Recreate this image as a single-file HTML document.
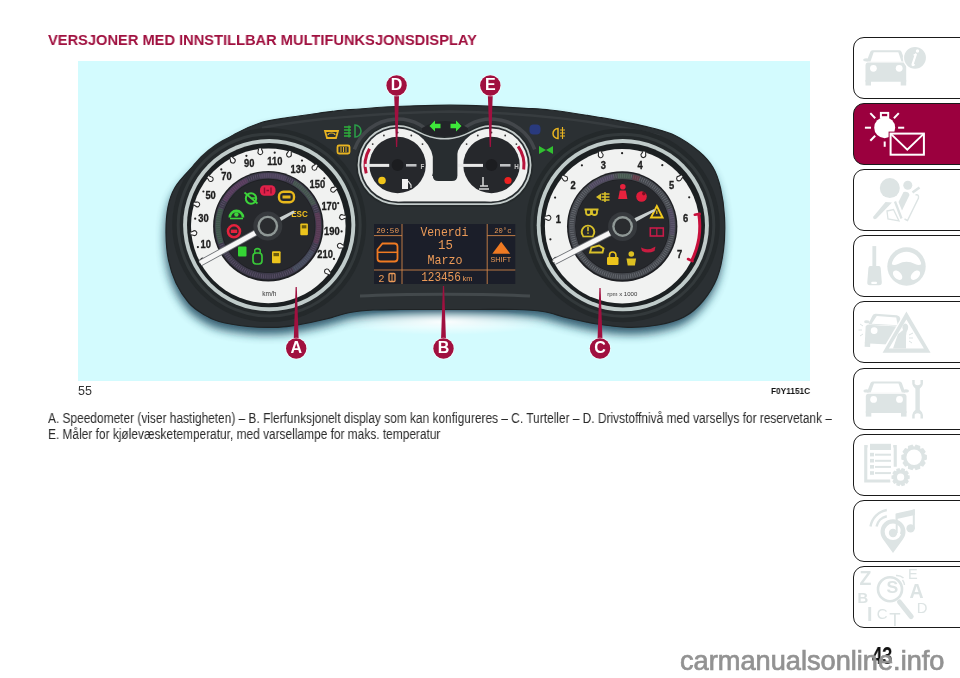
<!DOCTYPE html>
<html><head><meta charset="utf-8">
<style>
*{margin:0;padding:0;box-sizing:border-box}
html,body{width:960px;height:678px;overflow:hidden;background:#fff}
body{position:relative;font-family:"Liberation Sans",sans-serif}
.abs{position:absolute;white-space:nowrap;will-change:transform}
#h1{left:48px;top:30.5px;font-size:15.5px;line-height:17px;font-weight:bold;color:#a0103f;transform:scaleX(0.945);transform-origin:0 0}
#fig{position:absolute;left:78px;top:61px;width:732px;height:320px;will-change:transform}
#n55{left:78px;top:383.5px;font-size:12.5px;line-height:14px;color:#333}
#code{left:771px;top:385.5px;font-size:9px;line-height:10px;font-weight:bold;color:#111;transform:scaleX(0.92);transform-origin:0 0}
.cap{left:48px;font-size:13.8px;line-height:16px;color:#2a2a2a;transform:scaleX(0.863);transform-origin:0 0}
#c1{top:411px}
#c2{top:427.3px}
.tab{position:absolute;left:853px;width:120px;height:62px;border:1.8px solid #1a1a1a;border-radius:11px;background:#fff}
.tab svg{position:absolute;left:-1.6px;top:-1.6px}
#pg{left:872px;top:644px;font-size:23px;line-height:24px;font-weight:bold;color:#111;transform:scaleX(0.8);transform-origin:0 0}
#wm{left:680px;top:646.2px;font-size:27.2px;line-height:30px;color:#929292;-webkit-text-stroke:0.7px #929292}
</style></head><body>
<div id="h1" class="abs">VERSJONER MED INNSTILLBAR MULTIFUNKSJONSDISPLAY</div>

<svg id="fig" viewBox="78 61 732 320">
<rect x="78" y="61" width="732" height="320" fill="#d3fbfe"/>
<!--FIG-->
<defs>
<filter id="blur6" x="-20%" y="-20%" width="140%" height="140%"><feGaussianBlur stdDeviation="6"/></filter>
<filter id="blur5" x="-20%" y="-20%" width="140%" height="140%"><feGaussianBlur stdDeviation="5"/></filter>
<filter id="blur3" x="-20%" y="-20%" width="140%" height="140%"><feGaussianBlur stdDeviation="3"/></filter>
<filter id="blur1" x="-20%" y="-20%" width="140%" height="140%"><feGaussianBlur stdDeviation="1"/></filter>
<filter id="soft2" x="-10%" y="-10%" width="120%" height="120%"><feGaussianBlur stdDeviation="0.6"/></filter>
<filter id="soft" x="-10%" y="-10%" width="120%" height="120%"><feGaussianBlur stdDeviation="0.35"/></filter>
<radialGradient id="glow" cx="50%" cy="50%" r="50%"><stop offset="0" stop-color="#ffffff" stop-opacity="0.95"/><stop offset="1" stop-color="#ffffff" stop-opacity="0"/></radialGradient>
<radialGradient id="dial" cx="50%" cy="50%" r="50%"><stop offset="0.8" stop-color="#2a2c31"/><stop offset="1" stop-color="#1f2025"/></radialGradient>
</defs>
<path d="M166.0,233.0 C165.9,224.2 166.5,214.6 168.0,207.0 C169.5,199.4 171.3,193.8 175.0,187.5 C178.7,181.2 184.2,175.6 190.0,169.5 C195.8,163.4 202.5,156.9 210.0,151.0 C217.5,145.1 226.7,138.7 235.0,134.0 C243.3,129.3 251.7,125.7 260.0,123.0 C268.3,120.3 276.7,119.4 285.0,118.0 C293.3,116.6 301.7,115.7 310.0,114.5 C318.3,113.3 326.7,111.9 335.0,111.0 C343.3,110.1 351.7,109.7 360.0,109.0 C368.3,108.3 376.7,107.5 385.0,107.0 C393.3,106.5 399.2,106.3 410.0,106.0 C420.8,105.7 436.7,105.2 450.0,105.2 C463.3,105.2 477.5,105.8 490.0,106.3 C502.5,106.8 515.0,107.7 525.0,108.3 C535.0,108.9 541.7,109.1 550.0,110.0 C558.3,110.9 566.7,112.2 575.0,113.5 C583.3,114.8 591.7,116.1 600.0,117.5 C608.3,118.9 616.7,120.3 625.0,122.0 C633.3,123.7 641.7,125.2 650.0,127.5 C658.3,129.8 666.8,131.5 675.0,135.5 C683.2,139.5 692.7,146.2 699.0,151.5 C705.3,156.8 709.4,161.4 713.0,167.5 C716.6,173.6 718.6,179.8 720.5,188.0 C722.4,196.2 724.0,206.7 724.5,217.0 C725.0,227.3 724.8,239.8 723.5,250.0 C722.2,260.2 720.4,269.5 717.0,278.0 C713.6,286.5 708.5,294.5 703.0,301.0 C697.5,307.5 691.5,313.0 684.0,317.0 C676.5,321.0 667.3,323.3 658.0,325.0 C648.7,326.7 638.2,327.5 628.0,327.3 C617.8,327.1 607.0,325.6 597.0,324.0 C587.0,322.4 577.0,320.1 568.0,318.0 C559.0,315.9 551.8,312.9 543.0,311.5 C534.2,310.1 525.5,309.8 515.0,309.5 C504.5,309.2 492.5,309.5 480.0,309.5 C467.5,309.5 453.3,309.5 440.0,309.5 C426.7,309.5 411.2,309.4 400.0,309.5 C388.8,309.6 381.3,309.5 373.0,310.0 C364.7,310.5 357.8,311.0 350.0,312.5 C342.2,314.0 334.3,317.0 326.0,319.0 C317.7,321.0 308.0,323.1 300.0,324.5 C292.0,325.9 286.7,327.0 278.0,327.3 C269.3,327.6 257.8,327.5 248.0,326.5 C238.2,325.5 226.5,323.6 219.0,321.5 C211.5,319.4 208.0,317.1 203.0,314.0 C198.0,310.9 193.5,308.2 189.0,303.0 C184.5,297.8 179.4,290.2 176.0,283.0 C172.6,275.8 170.2,268.3 168.5,260.0 C166.8,251.7 166.1,241.8 166.0,233.0 Z" fill="#173f56" opacity="0.85" transform="translate(-1,7)" filter="url(#blur5)"/>
<ellipse cx="445" cy="322" rx="105" ry="13" fill="url(#glow)"/>
<path d="M166.0,233.0 C165.9,224.2 166.5,214.6 168.0,207.0 C169.5,199.4 171.3,193.8 175.0,187.5 C178.7,181.2 184.2,175.6 190.0,169.5 C195.8,163.4 202.5,156.9 210.0,151.0 C217.5,145.1 226.7,138.7 235.0,134.0 C243.3,129.3 251.7,125.7 260.0,123.0 C268.3,120.3 276.7,119.4 285.0,118.0 C293.3,116.6 301.7,115.7 310.0,114.5 C318.3,113.3 326.7,111.9 335.0,111.0 C343.3,110.1 351.7,109.7 360.0,109.0 C368.3,108.3 376.7,107.5 385.0,107.0 C393.3,106.5 399.2,106.3 410.0,106.0 C420.8,105.7 436.7,105.2 450.0,105.2 C463.3,105.2 477.5,105.8 490.0,106.3 C502.5,106.8 515.0,107.7 525.0,108.3 C535.0,108.9 541.7,109.1 550.0,110.0 C558.3,110.9 566.7,112.2 575.0,113.5 C583.3,114.8 591.7,116.1 600.0,117.5 C608.3,118.9 616.7,120.3 625.0,122.0 C633.3,123.7 641.7,125.2 650.0,127.5 C658.3,129.8 666.8,131.5 675.0,135.5 C683.2,139.5 692.7,146.2 699.0,151.5 C705.3,156.8 709.4,161.4 713.0,167.5 C716.6,173.6 718.6,179.8 720.5,188.0 C722.4,196.2 724.0,206.7 724.5,217.0 C725.0,227.3 724.8,239.8 723.5,250.0 C722.2,260.2 720.4,269.5 717.0,278.0 C713.6,286.5 708.5,294.5 703.0,301.0 C697.5,307.5 691.5,313.0 684.0,317.0 C676.5,321.0 667.3,323.3 658.0,325.0 C648.7,326.7 638.2,327.5 628.0,327.3 C617.8,327.1 607.0,325.6 597.0,324.0 C587.0,322.4 577.0,320.1 568.0,318.0 C559.0,315.9 551.8,312.9 543.0,311.5 C534.2,310.1 525.5,309.8 515.0,309.5 C504.5,309.2 492.5,309.5 480.0,309.5 C467.5,309.5 453.3,309.5 440.0,309.5 C426.7,309.5 411.2,309.4 400.0,309.5 C388.8,309.6 381.3,309.5 373.0,310.0 C364.7,310.5 357.8,311.0 350.0,312.5 C342.2,314.0 334.3,317.0 326.0,319.0 C317.7,321.0 308.0,323.1 300.0,324.5 C292.0,325.9 286.7,327.0 278.0,327.3 C269.3,327.6 257.8,327.5 248.0,326.5 C238.2,325.5 226.5,323.6 219.0,321.5 C211.5,319.4 208.0,317.1 203.0,314.0 C198.0,310.9 193.5,308.2 189.0,303.0 C184.5,297.8 179.4,290.2 176.0,283.0 C172.6,275.8 170.2,268.3 168.5,260.0 C166.8,251.7 166.1,241.8 166.0,233.0 Z" fill="#2b3033" stroke="#1f2325" stroke-width="1.2"/>
<path d="M360,296 C400,293.5 490,293.5 530,296" fill="none" stroke="#4a5052" stroke-width="3" opacity="0.8"/>
<path d="M262,128 C300,120 380,112.5 450,111.5 C520,112.5 600,120 660,136" fill="none" stroke="#3f4548" stroke-width="2.5" opacity="0.6"/>
<circle cx="269.2" cy="225.1" r="97" fill="#24292b"/>
<circle cx="269.2" cy="225.1" r="91" fill="none" stroke="#33393b" stroke-width="3"/>
<circle cx="269.2" cy="225.1" r="86.1" fill="#c0cbca"/>
<circle cx="269.2" cy="225.1" r="82.2" fill="#1c2022"/>
<circle cx="268.3" cy="225.9" r="77.3" fill="#f1f2f1"/>
<circle cx="622.8" cy="225.2" r="97" fill="#24292b"/>
<circle cx="622.8" cy="225.2" r="91" fill="none" stroke="#33393b" stroke-width="3"/>
<circle cx="622.8" cy="225.2" r="86.1" fill="#c0cbca"/>
<circle cx="622.8" cy="225.2" r="82.2" fill="#1c2022"/>
<circle cx="622.2" cy="226.2" r="77.3" fill="#f1f2f1"/>
<text x="0" y="0" transform="translate(205.7,247.7) scale(0.85,1)" font-family="Liberation Sans" font-size="11" font-weight="bold" fill="#1e1e1e" stroke="#1e1e1e" stroke-width="0.35" text-anchor="middle">10</text>
<text x="0" y="0" transform="translate(203.4,222.1) scale(0.85,1)" font-family="Liberation Sans" font-size="11" font-weight="bold" fill="#1e1e1e" stroke="#1e1e1e" stroke-width="0.35" text-anchor="middle">30</text>
<text x="0" y="0" transform="translate(210.6,198.8) scale(0.85,1)" font-family="Liberation Sans" font-size="11" font-weight="bold" fill="#1e1e1e" stroke="#1e1e1e" stroke-width="0.35" text-anchor="middle">50</text>
<text x="0" y="0" transform="translate(226.4,179.5) scale(0.85,1)" font-family="Liberation Sans" font-size="11" font-weight="bold" fill="#1e1e1e" stroke="#1e1e1e" stroke-width="0.35" text-anchor="middle">70</text>
<text x="0" y="0" transform="translate(249.2,167.4) scale(0.85,1)" font-family="Liberation Sans" font-size="11" font-weight="bold" fill="#1e1e1e" stroke="#1e1e1e" stroke-width="0.35" text-anchor="middle">90</text>
<text x="0" y="0" transform="translate(274.8,165.1) scale(0.85,1)" font-family="Liberation Sans" font-size="11" font-weight="bold" fill="#1e1e1e" stroke="#1e1e1e" stroke-width="0.35" text-anchor="middle">110</text>
<text x="0" y="0" transform="translate(298.3,172.5) scale(0.85,1)" font-family="Liberation Sans" font-size="11" font-weight="bold" fill="#1e1e1e" stroke="#1e1e1e" stroke-width="0.35" text-anchor="middle">130</text>
<text x="0" y="0" transform="translate(317.3,188.3) scale(0.85,1)" font-family="Liberation Sans" font-size="11" font-weight="bold" fill="#1e1e1e" stroke="#1e1e1e" stroke-width="0.35" text-anchor="middle">150</text>
<text x="0" y="0" transform="translate(329.2,210.4) scale(0.85,1)" font-family="Liberation Sans" font-size="11" font-weight="bold" fill="#1e1e1e" stroke="#1e1e1e" stroke-width="0.35" text-anchor="middle">170</text>
<text x="0" y="0" transform="translate(331.8,234.7) scale(0.85,1)" font-family="Liberation Sans" font-size="11" font-weight="bold" fill="#1e1e1e" stroke="#1e1e1e" stroke-width="0.35" text-anchor="middle">190</text>
<text x="0" y="0" transform="translate(325.1,258.2) scale(0.85,1)" font-family="Liberation Sans" font-size="11" font-weight="bold" fill="#1e1e1e" stroke="#1e1e1e" stroke-width="0.35" text-anchor="middle">210</text>
<path d="M-1.3,-3.6 L-2,-1.2 A2.4,2.4 0 1 0 2,-1.2 L1.3,-3.6" transform="translate(202.6,260.7) rotate(-117.9)" fill="#fafafa" stroke="#2a2a2a" stroke-width="1.1"/>
<circle cx="197.9" cy="247.1" r="1.1" fill="#222"/>
<path d="M-1.3,-3.6 L-2,-1.2 A2.4,2.4 0 1 0 2,-1.2 L1.3,-3.6" transform="translate(194.3,233.1) rotate(-95.6)" fill="#fafafa" stroke="#2a2a2a" stroke-width="1.1"/>
<circle cx="195.2" cy="218.7" r="1.1" fill="#222"/>
<path d="M-1.3,-3.6 L-2,-1.2 A2.4,2.4 0 1 0 2,-1.2 L1.3,-3.6" transform="translate(197.2,204.4) rotate(-73.2)" fill="#fafafa" stroke="#2a2a2a" stroke-width="1.1"/>
<circle cx="203.4" cy="191.5" r="1.1" fill="#222"/>
<path d="M-1.3,-3.6 L-2,-1.2 A2.4,2.4 0 1 0 2,-1.2 L1.3,-3.6" transform="translate(210.7,179.0) rotate(-50.9)" fill="#fafafa" stroke="#2a2a2a" stroke-width="1.1"/>
<circle cx="221.3" cy="169.4" r="1.1" fill="#222"/>
<path d="M-1.3,-3.6 L-2,-1.2 A2.4,2.4 0 1 0 2,-1.2 L1.3,-3.6" transform="translate(232.8,160.6) rotate(-28.5)" fill="#fafafa" stroke="#2a2a2a" stroke-width="1.1"/>
<circle cx="246.4" cy="155.8" r="1.1" fill="#222"/>
<path d="M-1.3,-3.6 L-2,-1.2 A2.4,2.4 0 1 0 2,-1.2 L1.3,-3.6" transform="translate(260.3,152.0) rotate(-6.2)" fill="#fafafa" stroke="#2a2a2a" stroke-width="1.1"/>
<circle cx="274.7" cy="152.7" r="1.1" fill="#222"/>
<path d="M-1.3,-3.6 L-2,-1.2 A2.4,2.4 0 1 0 2,-1.2 L1.3,-3.6" transform="translate(289.0,154.5) rotate(16.1)" fill="#fafafa" stroke="#2a2a2a" stroke-width="1.1"/>
<circle cx="302.0" cy="160.6" r="1.1" fill="#222"/>
<path d="M-1.3,-3.6 L-2,-1.2 A2.4,2.4 0 1 0 2,-1.2 L1.3,-3.6" transform="translate(314.5,167.7) rotate(38.5)" fill="#fafafa" stroke="#2a2a2a" stroke-width="1.1"/>
<circle cx="324.3" cy="178.3" r="1.1" fill="#222"/>
<path d="M-1.3,-3.6 L-2,-1.2 A2.4,2.4 0 1 0 2,-1.2 L1.3,-3.6" transform="translate(333.2,189.7) rotate(60.8)" fill="#fafafa" stroke="#2a2a2a" stroke-width="1.1"/>
<circle cx="338.2" cy="203.2" r="1.1" fill="#222"/>
<path d="M-1.3,-3.6 L-2,-1.2 A2.4,2.4 0 1 0 2,-1.2 L1.3,-3.6" transform="translate(342.1,217.1) rotate(83.2)" fill="#fafafa" stroke="#2a2a2a" stroke-width="1.1"/>
<circle cx="341.6" cy="231.4" r="1.1" fill="#222"/>
<path d="M-1.3,-3.6 L-2,-1.2 A2.4,2.4 0 1 0 2,-1.2 L1.3,-3.6" transform="translate(339.9,245.8) rotate(105.5)" fill="#fafafa" stroke="#2a2a2a" stroke-width="1.1"/>
<circle cx="334.0" cy="258.9" r="1.1" fill="#222"/>
<path d="M-1.3,-3.6 L-2,-1.2 A2.4,2.4 0 1 0 2,-1.2 L1.3,-3.6" transform="translate(327.0,271.5) rotate(127.8)" fill="#fafafa" stroke="#2a2a2a" stroke-width="1.1"/>
<text x="0" y="0" transform="translate(269.3,295.9) scale(1,1)" font-family="Liberation Sans" font-size="6.5" font-weight="normal" fill="#333" text-anchor="middle" >km/h</text>
<text x="0" y="0" transform="translate(558.4,222.9) scale(0.85,1)" font-family="Liberation Sans" font-size="11" font-weight="bold" fill="#1e1e1e" stroke="#1e1e1e" stroke-width="0.35" text-anchor="middle">1</text>
<text x="0" y="0" transform="translate(573.0,188.8) scale(0.85,1)" font-family="Liberation Sans" font-size="11" font-weight="bold" fill="#1e1e1e" stroke="#1e1e1e" stroke-width="0.35" text-anchor="middle">2</text>
<text x="0" y="0" transform="translate(603.4,168.7) scale(0.85,1)" font-family="Liberation Sans" font-size="11" font-weight="bold" fill="#1e1e1e" stroke="#1e1e1e" stroke-width="0.35" text-anchor="middle">3</text>
<text x="0" y="0" transform="translate(640.0,168.5) scale(0.85,1)" font-family="Liberation Sans" font-size="11" font-weight="bold" fill="#1e1e1e" stroke="#1e1e1e" stroke-width="0.35" text-anchor="middle">4</text>
<text x="0" y="0" transform="translate(671.5,189.3) scale(0.85,1)" font-family="Liberation Sans" font-size="11" font-weight="bold" fill="#1e1e1e" stroke="#1e1e1e" stroke-width="0.35" text-anchor="middle">5</text>
<text x="0" y="0" transform="translate(685.5,222.0) scale(0.85,1)" font-family="Liberation Sans" font-size="11" font-weight="bold" fill="#1e1e1e" stroke="#1e1e1e" stroke-width="0.35" text-anchor="middle">6</text>
<text x="0" y="0" transform="translate(679.5,258.0) scale(0.85,1)" font-family="Liberation Sans" font-size="11" font-weight="bold" fill="#1e1e1e" stroke="#1e1e1e" stroke-width="0.35" text-anchor="middle">7</text>
<path d="M-1.3,-3.6 L-2,-1.2 A2.4,2.4 0 1 0 2,-1.2 L1.3,-3.6" transform="translate(556.0,259.9) rotate(-117.0)" fill="#fafafa" stroke="#2a2a2a" stroke-width="1.1"/>
<circle cx="550.4" cy="239.3" r="1.1" fill="#222"/>
<path d="M-1.3,-3.6 L-2,-1.2 A2.4,2.4 0 1 0 2,-1.2 L1.3,-3.6" transform="translate(548.4,217.9) rotate(-83.6)" fill="#fafafa" stroke="#2a2a2a" stroke-width="1.1"/>
<circle cx="555.1" cy="197.6" r="1.1" fill="#222"/>
<path d="M-1.3,-3.6 L-2,-1.2 A2.4,2.4 0 1 0 2,-1.2 L1.3,-3.6" transform="translate(565.1,178.6) rotate(-50.2)" fill="#fafafa" stroke="#2a2a2a" stroke-width="1.1"/>
<circle cx="581.9" cy="165.3" r="1.1" fill="#222"/>
<path d="M-1.3,-3.6 L-2,-1.2 A2.4,2.4 0 1 0 2,-1.2 L1.3,-3.6" transform="translate(600.7,155.1) rotate(-16.8)" fill="#fafafa" stroke="#2a2a2a" stroke-width="1.1"/>
<circle cx="622.1" cy="153.2" r="1.1" fill="#222"/>
<path d="M-1.3,-3.6 L-2,-1.2 A2.4,2.4 0 1 0 2,-1.2 L1.3,-3.6" transform="translate(643.4,155.0) rotate(16.6)" fill="#fafafa" stroke="#2a2a2a" stroke-width="1.1"/>
<circle cx="662.3" cy="165.2" r="1.1" fill="#222"/>
<path d="M-1.3,-3.6 L-2,-1.2 A2.4,2.4 0 1 0 2,-1.2 L1.3,-3.6" transform="translate(679.1,178.4) rotate(50.0)" fill="#fafafa" stroke="#2a2a2a" stroke-width="1.1"/>
<circle cx="689.2" cy="197.3" r="1.1" fill="#222"/>
<path d="M698.8,214.1 A77.6,77.6 0 0 1 691.6,260.8" fill="none" stroke="#c8103c" stroke-width="3"/>
<line x1="699.7" y1="213.9" x2="694.8" y2="214.7" stroke="#c8103c" stroke-width="2.6" stroke-linecap="round"/>
<line x1="692.5" y1="261.2" x2="688.0" y2="259.0" stroke="#c8103c" stroke-width="2.6" stroke-linecap="round"/>
<text x="0" y="0" transform="translate(622.2,296.2) scale(1,1)" font-family="Liberation Sans" font-size="6" font-weight="normal" fill="#333" text-anchor="middle" >rpm x 1000</text>
<circle cx="268.3" cy="226.20000000000002" r="55.2" fill="#1e1f23"/>
<circle cx="268.3" cy="225.9" r="50.3" fill="none" stroke="#3d3a4a" stroke-width="6.5"/>
<circle cx="268.3" cy="225.9" r="50.5" fill="none" stroke="#6a5a78" stroke-width="4" stroke-dasharray="0.7 1.5" opacity="0.75"/>
<circle cx="268.3" cy="225.9" r="46.5" fill="#26282c"/>
<circle cx="622.2" cy="226.5" r="55.2" fill="#1e1f23"/>
<circle cx="622.2" cy="226.2" r="50.3" fill="none" stroke="#45484e" stroke-width="6.5"/>
<circle cx="622.2" cy="226.2" r="50.5" fill="none" stroke="#7a7e84" stroke-width="4" stroke-dasharray="0.7 1.5" opacity="0.75"/>
<circle cx="622.2" cy="226.2" r="46.5" fill="#26282c"/>
<path d="M221.0,243.1 A50.3,50.3 0 0 1 221.0,208.7" fill="none" stroke="#3f6a4a" stroke-width="5" opacity="0.55"/>
<path d="M224.7,200.8 A50.3,50.3 0 0 1 247.0,180.3" fill="none" stroke="#6a3f6a" stroke-width="5" opacity="0.55"/>
<path d="M259.6,176.4 A50.3,50.3 0 0 1 285.5,178.6" fill="none" stroke="#5a4a6a" stroke-width="5" opacity="0.55"/>
<path d="M293.5,182.3 A50.3,50.3 0 0 1 313.9,204.6" fill="none" stroke="#4a6a52" stroke-width="5" opacity="0.55"/>
<path d="M316.9,212.9 A50.3,50.3 0 0 1 315.6,243.1" fill="none" stroke="#6a3a5a" stroke-width="5" opacity="0.55"/>
<path d="M311.9,251.1 A50.3,50.3 0 0 1 293.5,269.5" fill="none" stroke="#4a5a6a" stroke-width="5" opacity="0.55"/>
<path d="M589.9,187.7 A50.3,50.3 0 0 1 613.5,176.7" fill="none" stroke="#5a4a70" stroke-width="5" opacity="0.5"/>
<path d="M617.8,176.1 A50.3,50.3 0 0 1 630.9,176.7" fill="none" stroke="#4a6a52" stroke-width="5" opacity="0.5"/>
<path d="M632.7,177.0 A50.3,50.3 0 0 1 639.4,178.9" fill="none" stroke="#7a3040" stroke-width="5" opacity="0.5"/>
<path d="M669.5,209.0 A50.3,50.3 0 0 1 671.7,234.9" fill="none" stroke="#5a4a70" stroke-width="5" opacity="0.5"/>
<g filter="url(#soft)">
<rect x="260" y="185.2" width="15.5" height="10.5" rx="4.5" fill="#e0204a"/>
<path d="M264.5,187.5 v6 M271,187.5 v6 M266.5,190.5 h2.5" stroke="#8a1030" stroke-width="1.4"/>
<circle cx="251" cy="198.5" r="5.2" fill="none" stroke="#3cd43a" stroke-width="2"/>
<path d="M244.5,192.5 L257.5,203.5 M250,198 h6" stroke="#3cd43a" stroke-width="1.7"/>
<rect x="279" y="191.8" width="15" height="10.5" rx="4.5" fill="none" stroke="#e8b81e" stroke-width="2.4"/>
<rect x="282.5" y="195.5" width="8" height="3" fill="#e8b81e"/>
<path d="M229.8,217.5 A6.6,6.6 0 1 1 243,217.5" fill="none" stroke="#3cd43a" stroke-width="2.6"/>
<circle cx="236.4" cy="214.5" r="2.2" fill="#3cd43a"/><path d="M230,218.5 h13" stroke="#3cd43a" stroke-width="1.6"/>
<circle cx="234" cy="231.3" r="6" fill="none" stroke="#e4203c" stroke-width="2.6"/>
<rect x="230.8" y="229.6" width="6.4" height="3.4" fill="#e4203c"/>
</g>
<text x="0" y="0" transform="translate(299.5,217.0) scale(0.85,1)" font-family="Liberation Sans" font-size="9.5" font-weight="bold" fill="#f0c020" text-anchor="middle" >ESC</text>
<g filter="url(#soft)">
<rect x="300.3" y="223.6" width="7.6" height="11.6" rx="1" fill="#ecc41c"/><rect x="301.8" y="225.2" width="4.6" height="3.2" fill="#6a5a10"/>
<rect x="238" y="246.5" width="8.5" height="10" rx="1" fill="#34d434"/>
<rect x="253" y="253" width="9" height="11" rx="3.2" fill="none" stroke="#38c838" stroke-width="1.7"/>
<path d="M254.8,253.5 L254.8,249.8 Q257.5,247.5 260.2,249.8 L260.2,253.5" fill="none" stroke="#38c838" stroke-width="1.5"/>
<rect x="272" y="251.3" width="8.6" height="12" rx="1" fill="#ecc41c"/><rect x="273.5" y="253" width="5.5" height="3.2" fill="#6a5a10"/>
</g>
<g filter="url(#soft)">
<path d="M596,197 l5,-3.5 v7 z" fill="#d8c02a"/><path d="M601.5,194 h8 M601.5,197 h8 M601.5,200 h8 M605,192 v10" stroke="#d8c02a" stroke-width="1.5"/>
<circle cx="622.8" cy="186.8" r="2.8" fill="#e8203c"/><path d="M618.2,199 L619.8,190.5 L625.8,190.5 L627.4,199 Z" fill="#e8203c"/>
<circle cx="641.5" cy="196.5" r="5.3" fill="#e01e3a"/><circle cx="643.8" cy="193.6" r="1.8" fill="#7a1020"/>
<path d="M584.5,209.5 h14 M586,209.5 v3 a2.5,2.5 0 0 0 5,0 v-3 M592,209.5 v3 a2.5,2.5 0 0 0 5,0 v-3" fill="none" stroke="#d8c02a" stroke-width="1.8"/>
<path d="M656.8,206 L662.6,217.5 L651,217.5 Z" fill="none" stroke="#f0c81c" stroke-width="1.9"/><path d="M656.8,210.5 v3.5" stroke="#f0c81c" stroke-width="1.2"/>
<path d="M583.2,236 A6.3,6.3 0 1 1 592.8,236" fill="none" stroke="#d8c02a" stroke-width="1.9"/><path d="M582.5,236.5 h11" stroke="#d8c02a" stroke-width="1.6"/><path d="M588,227 v4.2 M588,232.6 v1.2" stroke="#d8c02a" stroke-width="1.6"/>
<rect x="650.3" y="228" width="13" height="8" fill="none" stroke="#c81c48" stroke-width="1.6"/><path d="M656.8,228 v8" stroke="#c81c48" stroke-width="1.2"/>
<path d="M590,252.5 L591.5,247.5 L599,245.5 L603.5,248.5 L602.5,252.5 Z" fill="none" stroke="#d8c02a" stroke-width="1.9"/>
<path d="M641,247.5 Q648,251.5 655.5,246.5 L654.5,251 Q648,254 642,251 Z" fill="#c81c40"/>
<rect x="607" y="257" width="11.5" height="8" rx="1.2" fill="#ecc41c"/><path d="M609.5,257.5 v-2.3 a3.2,3.2 0 0 1 6.4,0 v2.3" fill="none" stroke="#ecc41c" stroke-width="1.6"/>
<circle cx="631.3" cy="254" r="2.8" fill="#ddc020"/><path d="M626.5,258.5 h9.6 l-1.2,7 h-7.2 z" fill="#ddc020"/>
</g>
<line x1="259.0" y1="230.9" x2="200.3" y2="263.2" stroke="#6f7277" stroke-width="6.6" stroke-linecap="butt"/>
<line x1="259.0" y1="230.9" x2="200.3" y2="263.2" stroke="#f6f6f6" stroke-width="4.9" stroke-linecap="butt"/>
<path d="M277.6,223.1 L294.7,212.7 L293.5,210.6 L275.6,219.4 Z" fill="#c9cfcf"/>
<circle cx="267.8" cy="226.1" r="14.5" fill="#36393d"/>
<circle cx="267.8" cy="226.1" r="10.4" fill="#8f9896"/>
<circle cx="267.8" cy="226.1" r="8" fill="#2a2c2f"/>
<line x1="613.7" y1="231.1" x2="554.1" y2="261.7" stroke="#6f7277" stroke-width="6.6" stroke-linecap="butt"/>
<line x1="613.7" y1="231.1" x2="554.1" y2="261.7" stroke="#f6f6f6" stroke-width="4.9" stroke-linecap="butt"/>
<path d="M632.5,223.8 L655.2,211.1 L654.1,209.0 L630.5,220.1 Z" fill="#c9cfcf"/>
<circle cx="622.6" cy="226.5" r="14.5" fill="#36393d"/>
<circle cx="622.6" cy="226.5" r="10.4" fill="#8f9896"/>
<circle cx="622.6" cy="226.5" r="8" fill="#2a2c2f"/>
<path d="M354.4,149.3 A46,46 0 0 1 438.2,143.4" fill="none" stroke="#43474b" stroke-width="3.5"/>
<path d="M450.9,143.4 A46,46 0 0 1 534.7,149.3" fill="none" stroke="#43474b" stroke-width="3.5"/>
<path d="M422,128 Q445,114 468,128 L468,140 L422,140 Z" fill="#222428"/>
<path d="M397.6,123.2 A41.8,41.8 0 0 0 397.6,206.8 L491.5,206.8 A41.8,41.8 0 0 0 491.5,123.2 C473.5,123.2 467.5,136.2 444.55,136.2 C421.6,136.2 415.6,123.2 397.6,123.2 Z" fill="#24292b"/>
<path d="M397.6,125 A40,40 0 0 0 397.6,205 L491.5,205 A40,40 0 0 0 491.5,125 C473.5,125 467.5,138 444.55,138 C421.6,138 415.6,125 397.6,125 Z" fill="#c3cbca"/>
<path d="M397.6,126.8 A38.2,38.2 0 0 0 397.6,203.2 L491.5,203.2 A38.2,38.2 0 0 0 491.5,126.8 C473.5,126.8 467.5,139.6 444.55,139.6 C421.6,139.6 415.6,126.8 397.6,126.8 Z" fill="#282d30"/>
<circle cx="397.6" cy="165" r="36.4" fill="#f0f1f0"/>
<circle cx="491.5" cy="165" r="36.4" fill="#f0f1f0"/>
<rect x="397.6" y="176" width="93.89999999999998" height="25.400000000000006" fill="#f0f1f0"/>
<path d="M432.8,150 L432.8,175.5 Q432.8,181 438.3,181 L451.9,181 Q457.4,181 457.4,175.5 L457.4,150 Z" fill="#282d30"/>
<circle cx="397.6" cy="165" r="28.2" fill="#26282c"/>
<circle cx="397.6" cy="165" r="6" fill="#1c1d20"/>
<circle cx="422.5" cy="144.1" r="0.9" fill="#333"/>
<circle cx="411.3" cy="135.5" r="0.9" fill="#333"/>
<circle cx="397.6" cy="132.5" r="0.9" fill="#333"/>
<circle cx="383.9" cy="135.5" r="0.9" fill="#333"/>
<circle cx="372.7" cy="144.1" r="0.9" fill="#333"/>
<circle cx="491.5" cy="165" r="28.2" fill="#26282c"/>
<circle cx="491.5" cy="165" r="6" fill="#1c1d20"/>
<circle cx="516.4" cy="144.1" r="0.9" fill="#333"/>
<circle cx="505.2" cy="135.5" r="0.9" fill="#333"/>
<circle cx="491.5" cy="132.5" r="0.9" fill="#333"/>
<circle cx="477.8" cy="135.5" r="0.9" fill="#333"/>
<circle cx="466.6" cy="144.1" r="0.9" fill="#333"/>
<path d="M366.2,173.4 A32.5,32.5 0 0 1 369.5,148.8" fill="none" stroke="#b8143c" stroke-width="3"/>
<path d="M518.1,146.4 A32.5,32.5 0 0 1 523.7,169.5" fill="none" stroke="#b8143c" stroke-width="3"/>
<rect x="364.7" y="163.9" width="24.5" height="3" fill="#e8e8e8"/>
<rect x="406" y="164" width="10.5" height="2.6" fill="#bfc1c3"/>
<text x="0" y="0" transform="translate(422.5,168.5) scale(0.9,1)" font-family="Liberation Sans" font-size="7" font-weight="bold" fill="#c8c8c8" text-anchor="middle" >F</text>
<rect x="458" y="163.9" width="25" height="3" fill="#e8e8e8"/>
<rect x="500" y="164" width="10.5" height="2.6" fill="#bfc1c3"/>
<text x="0" y="0" transform="translate(516.5,168.5) scale(0.9,1)" font-family="Liberation Sans" font-size="7" font-weight="bold" fill="#c8c8c8" text-anchor="middle" >H</text>
<circle cx="382" cy="180.5" r="3.8" fill="#f0c419"/>
<rect x="402" y="179" width="6" height="10" fill="#f0f0f0"/><path d="M408,181 l3,4 v3" fill="none" stroke="#e0e0e0" stroke-width="1.2"/>
<circle cx="508" cy="180.5" r="3.6" fill="#ee2020"/>
<path d="M483,177 v9 M479,189 h10 M480,186 h8" fill="none" stroke="#d8d8d8" stroke-width="1.5"/>
<path d="M429.5,126 l5.5,-5.5 v3.2 h5.5 v4.6 h-5.5 v3.2 z" fill="#3ee83a"/>
<path d="M461.5,126 l-5.5,-5.5 v3.2 h-5.5 v4.6 h5.5 v3.2 z" fill="#3ee83a"/>
<g filter="url(#soft2)">
<path d="M325,131 L338,131 L336,138 L327,138 Z" fill="none" stroke="#e8b320" stroke-width="1.8"/><path d="M328,135 a3.5,2 0 0 1 7,0" fill="none" stroke="#e8b320" stroke-width="1.2"/>
<path d="M344,127 h7 M344,130 h7 M344,133 h7 M344,136 h7 M349,125.5 v12" stroke="#2fae3a" stroke-width="1.3"/>
<path d="M355,125 a6,6 0 0 1 0,12 z" fill="none" stroke="#2a9a48" stroke-width="1.6"/>
<rect x="337.5" y="145.5" width="12" height="8" rx="1.5" fill="none" stroke="#e8b320" stroke-width="1.8"/><path d="M341,147 v5 M343.5,147 v5 M346,147 v5" stroke="#e8b320" stroke-width="1"/>
<rect x="529.5" y="124.5" width="11" height="10" rx="4" fill="#2a3c96" opacity="0.75"/>
<path d="M558,128.5 a5,5 0 0 0 0,10 z" fill="none" stroke="#e8b320" stroke-width="1.5"/><path d="M560,130 h5 M560,133 h5 M560,136 h5 M562.5,127 v12" stroke="#e8b320" stroke-width="1.1"/>
<path d="M539,146 l7,4 l7,-4 v8 l-7,-4 l-7,4 z" fill="#30c030"/>
</g>
<rect x="374" y="224" width="141.3" height="60" fill="#1b1e29"/>
<g stroke="#d98a4a" stroke-width="1" fill="none" opacity="0.85"><path d="M402,224 V284 M487.2,224 V284 M374,270 H515.3 M374,235.6 H402 M487.2,235.6 H515.3"/></g>
<text x="0" y="0" transform="translate(387.6,233.4) scale(0.95,1)" font-family="Liberation Mono" font-size="8" fill="#eb9a58" text-anchor="middle">20:50</text>
<text x="0" y="0" transform="translate(444.3,236.2) scale(0.95,1)" font-family="Liberation Mono" font-size="12" fill="#eb9a58" text-anchor="middle">Venerdi</text>
<text x="0" y="0" transform="translate(445.4,249.4) scale(0.95,1)" font-family="Liberation Mono" font-size="13" fill="#eb9a58" text-anchor="middle">15</text>
<text x="0" y="0" transform="translate(445.0,264.2) scale(0.9,1)" font-family="Liberation Mono" font-size="13" fill="#eb9a58" text-anchor="middle">Marzo</text>
<text x="0" y="0" transform="translate(441.0,281.3) scale(0.85,1)" font-family="Liberation Mono" font-size="13" fill="#eb9a58" text-anchor="middle">123456</text>
<text x="462.5" y="281" font-family="Liberation Sans" font-size="7.5" fill="#eb9a58">km</text>
<text x="0" y="0" transform="translate(502.8,233.4) scale(0.9,1)" font-family="Liberation Mono" font-size="8" fill="#eb9a58" text-anchor="middle">20°c</text>
<path d="M501.2,241.8 L510.2,253.7 L492.3,253.7 Z" fill="#f07a22"/>
<text x="0" y="0" transform="translate(500.8,261.5) scale(0.9,1)" font-family="Liberation Sans" font-size="8" fill="#eb9a58" text-anchor="middle">SHIFT</text>
<path d="M382.5,243.5 L394.5,243.5 Q397.5,243.5 397.5,246.5 L397.5,258.5 Q397.5,261.5 394.5,261.5 L380.5,261.5 Q377.5,261.5 377.5,258.5 L377.5,249.5 Z" fill="none" stroke="#f07a22" stroke-width="1.8"/>
<path d="M377.5,252.3 H397.5" stroke="#f07a22" stroke-width="1.5"/>
<text x="0" y="0" transform="translate(381.5,281.5) scale(0.95,1)" font-family="Liberation Mono" font-size="11" fill="#eb9a58" text-anchor="middle">2</text>
<rect x="389" y="273.5" width="6" height="8" rx="1" fill="none" stroke="#eb9a58" stroke-width="1.3"/><path d="M392,274 v7" stroke="#eb9a58" stroke-width="1"/>
<path d="M394.0,90.5 L399.20000000000005,90.5 L397.20000000000005,147 L396.0,147 Z" fill="#a0103f"/>
<circle cx="396.6" cy="85.5" r="10.8" fill="#ffffff" opacity="0.8"/>
<circle cx="396.6" cy="85.5" r="10.2" fill="#a0103f"/>
<text x="396.6" y="90.3" font-family="Liberation Sans" font-weight="bold" font-size="16" fill="#fff" text-anchor="middle">D</text>
<path d="M487.7,90.5 L492.90000000000003,90.5 L490.90000000000003,147 L489.7,147 Z" fill="#a0103f"/>
<circle cx="490.3" cy="85.5" r="10.8" fill="#ffffff" opacity="0.8"/>
<circle cx="490.3" cy="85.5" r="10.2" fill="#a0103f"/>
<text x="490.3" y="90.3" font-family="Liberation Sans" font-weight="bold" font-size="16" fill="#fff" text-anchor="middle">E</text>
<path d="M293.59999999999997,343.5 L298.8,343.5 L296.8,287 L295.59999999999997,287 Z" fill="#a0103f"/>
<circle cx="296.2" cy="348.5" r="10.8" fill="#ffffff" opacity="0.8"/>
<circle cx="296.2" cy="348.5" r="10.2" fill="#a0103f"/>
<text x="296.2" y="353.3" font-family="Liberation Sans" font-weight="bold" font-size="16" fill="#fff" text-anchor="middle">A</text>
<path d="M440.9,343.5 L446.1,343.5 L444.1,286 L442.9,286 Z" fill="#a0103f"/>
<circle cx="443.5" cy="348.5" r="10.8" fill="#ffffff" opacity="0.8"/>
<circle cx="443.5" cy="348.5" r="10.2" fill="#a0103f"/>
<text x="443.5" y="353.3" font-family="Liberation Sans" font-weight="bold" font-size="16" fill="#fff" text-anchor="middle">B</text>
<path d="M597.4,343.5 L602.6,343.5 L600.6,288 L599.4,288 Z" fill="#a0103f"/>
<circle cx="600" cy="348.5" r="10.8" fill="#ffffff" opacity="0.8"/>
<circle cx="600" cy="348.5" r="10.2" fill="#a0103f"/>
<text x="600" y="353.3" font-family="Liberation Sans" font-weight="bold" font-size="16" fill="#fff" text-anchor="middle">C</text>
<!--/FIG-->
</svg>

<div id="n55" class="abs">55</div>
<div id="code" class="abs">F0Y1151C</div>
<div id="c1" class="abs cap">A. Speedometer (viser hastigheten) – B. Flerfunksjonelt display som kan konfigureres – C. Turteller – D. Drivstoffnivå med varsellys for reservetank –</div>
<div id="c2" class="abs cap">E. Måler for kjølevæsketemperatur, med varsellampe for maks. temperatur</div>

<!--TABS-->
<div class="tab" style="top:36.5px"></div>
<div class="tab" style="top:102.7px;background:#9b003e"></div>
<div class="tab" style="top:168.9px"></div>
<div class="tab" style="top:235.2px"></div>
<div class="tab" style="top:301.4px"></div>
<div class="tab" style="top:367.7px"></div>
<div class="tab" style="top:433.9px"></div>
<div class="tab" style="top:500.2px"></div>
<div class="tab" style="top:566.4px"></div>

<!--TABICONS--><svg style="position:absolute;left:840px;top:0;width:120px;height:678px;will-change:transform" viewBox="840 0 120 678"><path d="M872.5,50.3 L899.5,50.3 Q901.0,50.5 901.6,52.0 L905.0,61.5 L866.5,61.5 L870.2,52.0 Q870.8,50.5 872.5,50.3 Z" fill="#dde4e4"/><path d="M873.7,52.3 L898.3,52.3 L901.6,61.7 L870.4,61.7 Z" fill="#fff"/><path d="M867.5,62.6 L904.0,62.6 Q906.0,63.0 906.2,65.0 L906.2,81.8 L865.5,81.8 L865.5,65.0 Q865.7,63.0 867.5,62.6 Z" fill="#dde4e4"/><rect x="865.5" y="80.0" width="5.5" height="5.5" fill="#dde4e4"/><rect x="900.7" y="80.0" width="5.5" height="5.5" fill="#dde4e4"/><ellipse cx="866.2" cy="59.8" rx="3" ry="1.6" fill="#dde4e4"/><circle cx="873.4" cy="68.3" r="3.4" fill="#fff"/><circle cx="899.2" cy="68.3" r="3.4" fill="#fff"/><circle cx="915" cy="57.8" r="12.2" fill="#fff"/><circle cx="915" cy="57.8" r="10.9" fill="#dde4e4"/><circle cx="917.5" cy="51" r="1.7" fill="#fff"/><path d="M915.8,54.5 L912.6,64.2 Q912.2,65.6 913.8,64.8" fill="none" stroke="#fff" stroke-width="2.2" stroke-linecap="round"/><path d="M913.6,55 L916.2,54.6" stroke="#fff" stroke-width="1.6"/><circle cx="884.7" cy="127.7" r="10.5" fill="#ffffff"/><rect x="880.9" y="112.9" width="7.3" height="4.3" fill="none" stroke="#ffffff" stroke-width="2"/><line x1="864.9" y1="127.7" x2="871" y2="127.7" stroke="#ffffff" stroke-width="2"/><line x1="898.1" y1="127.7" x2="904.2" y2="127.7" stroke="#ffffff" stroke-width="2"/><line x1="870.3" y1="113.1" x2="875.2" y2="118.2" stroke="#ffffff" stroke-width="2"/><line x1="898.8" y1="113.1" x2="893.9" y2="118.2" stroke="#ffffff" stroke-width="2"/><line x1="870.3" y1="140.8" x2="875.2" y2="135.7" stroke="#ffffff" stroke-width="2"/><line x1="884.7" y1="141.5" x2="884.7" y2="146.8" stroke="#ffffff" stroke-width="2"/><rect x="888.6" y="131.6" width="37.3" height="25.1" fill="#9b003e"/><rect x="890.6" y="133.6" width="33.3" height="21.1" fill="none" stroke="#ffffff" stroke-width="2"/><path d="M890.6,133.6 L907.3,149.6 L923.9,133.6" fill="none" stroke="#ffffff" stroke-width="2"/><circle cx="889.8" cy="188.1" r="10" fill="#dde4e4"/><circle cx="907.8" cy="185.2" r="4.5" fill="#dde4e4"/><path d="M885.5,202 L892,202.5 L876.5,218.5 Q873.5,220.5 873,217 Z" fill="#dde4e4"/><path d="M903.5,192 Q908.5,191 909.5,195 L902,210.5 L898.5,202 Z" fill="#dde4e4"/><path d="M895,201.5 L901.5,218.5" stroke="#dde4e4" stroke-width="2.3"/><path d="M912.5,192.5 L919.5,187.5" stroke="#dde4e4" stroke-width="2.6"/><path d="M915.5,195 Q919,194 918.5,198 L907.5,220.5 L904.5,219" fill="none" stroke="#dde4e4" stroke-width="1.4"/><path d="M887,211 L893.5,209.5 L899,221 L888,219 Z" fill="none" stroke="#dde4e4" stroke-width="1.3"/><rect x="872.4" y="246.1" width="3.8" height="20.5" fill="#dde4e4"/><path d="M870,266 L879,266 Q880.3,266 880.7,268 L881.8,282 Q882,285.3 879,285.3 L869.8,285.3 Q867,285.3 867.3,282 L868.4,268 Q868.8,266 870,266 Z" fill="#dde4e4"/><rect x="871.2" y="281.8" width="5.8" height="2.2" rx="1" fill="#fff"/><circle cx="906.5" cy="266.5" r="19.2" fill="#dde4e4"/><path d="M891.8,264.3 A14.9,14.9 0 0 1 921.2,264.3 Q919,266 915,264 Q906.5,259.5 898,264 Q894,266 891.8,264.3 Z" fill="#fff"/><ellipse cx="897.6" cy="275.2" rx="5.6" ry="3.6" transform="rotate(45 897.6 275.2)" fill="#fff"/><ellipse cx="915.4" cy="275.2" rx="5.6" ry="3.6" transform="rotate(-45 915.4 275.2)" fill="#fff"/><g transform="rotate(3 880 330)"><path d="M875,314 L896,314.5 Q899,315 899.5,317 L901,325 L868,325 L871.5,316.5 Q872.5,314 875,314 Z" fill="#dde4e4"/><path d="M876,316.3 L895.5,316.6 L897.5,324.3 L871.3,324.3 Z" fill="#fff"/><path d="M867,325.5 L902,325.5 L902,344 L865.5,344 L865.5,327 Z" fill="#dde4e4"/><rect x="865.5" y="343" width="5.5" height="4.5" fill="#dde4e4"/><ellipse cx="866.5" cy="322.5" rx="2.8" ry="1.5" fill="#dde4e4"/><circle cx="874.2" cy="331" r="3.4" fill="#fff"/></g><path d="M863,326 l-3,-2 M862,330 h-3.5 M863,334 l-3,2" stroke="#dde4e4" stroke-width="1"/><path d="M906.4,309.2 L933.2,354.6 L879.6,354.6 Z" fill="#fff"/><path d="M906.4,311.4 L930.6,352.8 L882.6,352.8 Z M906.4,319.5 L888.9,348.6 L923.9,348.6 Z" fill="#dde4e4" fill-rule="evenodd"/><path d="M893,348.6 L898,334 Q902,331 903,330 Q901,325 905,323.5 Q909,324 908,329 Q906,332 906,336 L906,348.6 Z" fill="#dde4e4"/><path d="M909,335 l4,-2 M909,338 h4 M909,341 l3,2" stroke="#dde4e4" stroke-width="1"/><path d="M872.8,381.4 L899.8,381.4 Q901.2,381.6 901.9,383.1 L905.2,392.6 L866.8,392.6 L870.5,383.1 Q871.0,381.6 872.8,381.4 Z" fill="#dde4e4"/><path d="M874.0,383.4 L898.5,383.4 L901.9,392.8 L870.6,392.8 Z" fill="#fff"/><path d="M867.8,393.7 L904.2,393.7 Q906.2,394.1 906.5,396.1 L906.5,412.9 L865.8,412.9 L865.8,396.1 Q866.0,394.1 867.8,393.7 Z" fill="#dde4e4"/><rect x="865.8" y="411.1" width="5.5" height="5.5" fill="#dde4e4"/><rect x="901.0" y="411.1" width="5.5" height="5.5" fill="#dde4e4"/><ellipse cx="866.5" cy="390.9" rx="3" ry="1.6" fill="#dde4e4"/><ellipse cx="905.9" cy="390.9" rx="3" ry="1.6" fill="#dde4e4"/><circle cx="873.6" cy="399.4" r="3.4" fill="#fff"/><circle cx="899.5" cy="399.4" r="3.4" fill="#fff"/><rect x="915.4" y="386" width="4.4" height="27" fill="#dde4e4"/><path d="M912.2,380 Q911.5,388 917.6,389.5 Q923.7,388 923,380 L920.5,380 L920.5,384 Q917.6,386.5 914.7,384 L914.7,380 Z" fill="#dde4e4"/><path d="M912.2,418.5 Q911.5,410.5 917.6,409 Q923.7,410.5 923,418.5 L920.5,418.5 L920.5,414.5 Q917.6,412 914.7,414.5 L914.7,418.5 Z" fill="#dde4e4"/><path d="M864.2,445 h3.5 v2.5 h-0.4 v32.1 h23 v3 h-26.1 Z" fill="#dde4e4"/><path d="M893.2,445 h3.6 v21.8 h-3.1 v-19.3 h-0.5 Z" fill="#dde4e4"/><rect x="870" y="443.8" width="21" height="6.2" fill="#dde4e4"/><rect x="870" y="452.8" width="4" height="3.6" fill="#dde4e4"/><rect x="875" y="453.7" width="16" height="2" fill="#dde4e4"/><rect x="870" y="458.9" width="4" height="3.6" fill="#dde4e4"/><rect x="875" y="459.8" width="16" height="2" fill="#dde4e4"/><rect x="870" y="465.0" width="4" height="3.6" fill="#dde4e4"/><rect x="875" y="465.9" width="16" height="2" fill="#dde4e4"/><rect x="870" y="471.2" width="4" height="3.6" fill="#dde4e4"/><rect x="875" y="472.1" width="16" height="2" fill="#dde4e4"/><circle cx="900.6" cy="477.2" r="10.5" fill="#fff"/><path d="M924.2,454.1 L926.9,455.0 L926.9,459.6 L924.2,460.5 L924.1,460.7 L925.8,462.9 L923.1,466.7 L920.4,465.8 L920.2,465.9 L920.3,468.7 L915.8,470.2 L914.2,467.9 L914.0,467.9 L912.4,470.2 L907.9,468.7 L908.0,465.9 L907.8,465.8 L905.1,466.7 L902.4,462.9 L904.1,460.7 L904.0,460.5 L901.3,459.6 L901.3,455.0 L904.0,454.1 L904.1,453.9 L902.4,451.7 L905.1,447.9 L907.8,448.8 L908.0,448.7 L907.9,445.9 L912.4,444.4 L914.0,446.7 L914.2,446.7 L915.8,444.4 L920.3,445.9 L920.2,448.7 L920.4,448.8 L923.1,447.9 L925.8,451.7 L924.1,453.9 Z M921.8,457.3 A7.7,7.7 0 1 0 906.4,457.3 A7.7,7.7 0 1 0 921.8,457.3 Z" fill="#dde4e4" fill-rule="evenodd"/><path d="M907.6,475.0 L909.7,475.6 L909.7,478.8 L907.6,479.4 L907.5,479.5 L908.9,481.2 L907.0,483.9 L904.9,483.1 L904.8,483.1 L905.0,485.3 L901.8,486.3 L900.7,484.5 L900.5,484.5 L899.4,486.3 L896.2,485.3 L896.4,483.1 L896.3,483.1 L894.2,483.9 L892.3,481.2 L893.7,479.5 L893.6,479.4 L891.5,478.8 L891.5,475.6 L893.6,475.0 L893.7,474.9 L892.3,473.2 L894.2,470.5 L896.3,471.3 L896.4,471.3 L896.2,469.1 L899.4,468.1 L900.5,469.9 L900.7,469.9 L901.8,468.1 L905.0,469.1 L904.8,471.3 L904.9,471.3 L907.0,470.5 L908.9,473.2 L907.5,474.9 Z M904.2,477.2 A3.6,3.6 0 1 0 897.0,477.2 A3.6,3.6 0 1 0 904.2,477.2 Z" fill="#dde4e4" fill-rule="evenodd"/><path d="M893,552.9 L883.2,539.5 A12.5,12.5 0 1 1 902.8,539.5 Z" fill="#dde4e4"/><circle cx="893" cy="531.8" r="8.3" fill="#fff"/><path d="M897,512 L916.5,507 L916.5,527 L912,527 Z" fill="#fff"/><circle cx="893" cy="533" r="4.2" fill="#dde4e4"/><rect x="895.7" y="514" width="2" height="19" fill="#dde4e4"/><path d="M895.7,513.6 L914.8,509.2 L914.8,515 L895.7,519.2 Z" fill="#dde4e4"/><rect x="912.8" y="509.5" width="2" height="19.5" fill="#dde4e4"/><circle cx="910.6" cy="528.4" r="4.2" fill="#dde4e4"/><path d="M900,523 Q903,528 901,534" fill="none" stroke="#dde4e4" stroke-width="2.2"/><path d="M870.5,526.5 A20,20 0 0 1 886.8,510" fill="none" stroke="#dde4e4" stroke-width="2.4"/><path d="M876.5,526.5 A13,13 0 0 1 886.8,516.2" fill="none" stroke="#dde4e4" stroke-width="2.4"/><text x="859.5" y="584.8" font-family="Liberation Sans" font-weight="bold" font-size="19.5" fill="#dde4e4">Z</text><text x="908" y="579.3" font-family="Liberation Sans" font-weight="normal" font-size="14.5" fill="#dde4e4">E</text><text x="857.5" y="603.4" font-family="Liberation Sans" font-weight="bold" font-size="14.8" fill="#dde4e4">B</text><text x="909.5" y="598.1" font-family="Liberation Sans" font-weight="bold" font-size="19.5" fill="#dde4e4">A</text><text x="867" y="620.7" font-family="Liberation Sans" font-weight="bold" font-size="19.5" fill="#dde4e4">I</text><text x="876.7" y="618.9" font-family="Liberation Sans" font-weight="normal" font-size="15" fill="#dde4e4">C</text><text x="889.3" y="625.5" font-family="Liberation Sans" font-weight="normal" font-size="18.5" fill="#dde4e4">T</text><text x="916.8" y="612.7" font-family="Liberation Sans" font-weight="normal" font-size="14.8" fill="#dde4e4">D</text><circle cx="890" cy="589.2" r="12" fill="#fff" stroke="#dde4e4" stroke-width="2.6"/><line x1="899.5" y1="602" x2="911.2" y2="616.6" stroke="#dde4e4" stroke-width="5" stroke-linecap="round"/><text x="0" y="0" transform="translate(886.5,593) scale(1.1,1)" font-family="Liberation Sans" font-weight="bold" font-size="16" fill="#dde4e4">S</text><path d="M896,575.5 A10,10 0 0 1 903.5,578" fill="none" stroke="#dde4e4" stroke-width="1.6"/><path d="M902.5,580 A10,10 0 0 1 904.5,585" fill="none" stroke="#dde4e4" stroke-width="1.4"/></svg><!--/TABICONS-->
<div id="pg" class="abs">43</div>
<div id="wm" class="abs">carmanualsonline.info</div>
</body></html>
